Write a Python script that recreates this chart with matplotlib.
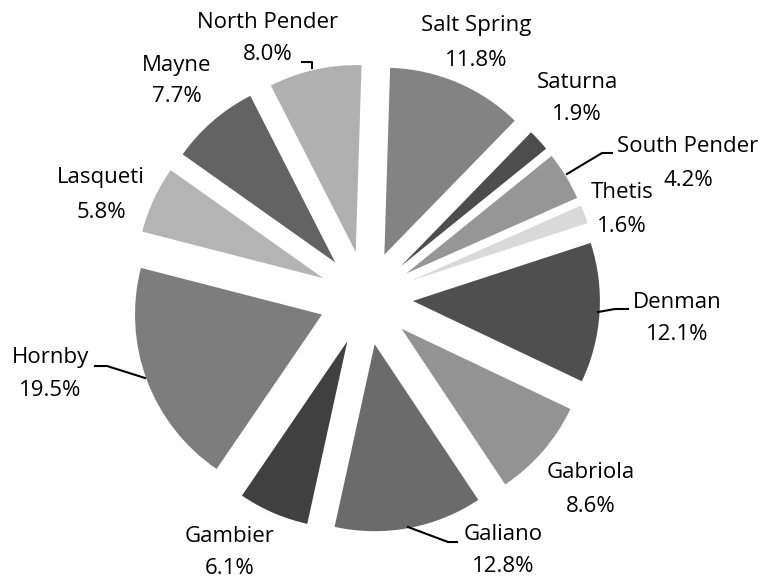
import matplotlib.pyplot as plt

# Excel order (first slice = Denman), values in percent
islands = ["Denman", "Gabriola", "Galiano", "Gambier", "Hornby", "Lasqueti",
           "Mayne", "North Pender", "Salt Spring", "Saturna", "South Pender", "Thetis"]
shares = [12.1, 8.6, 12.8, 6.1, 19.5, 5.8, 7.7, 8.0, 11.8, 1.9, 4.2, 1.6]
greys = ["#4f4f4f", "#939393", "#6b6b6b", "#404040", "#7d7d7d", "#b4b4b4",
         "#636363", "#b0b0b0", "#838383", "#4d4d4d", "#969696", "#d9d9d9"]

W, H = 762, 578
def Y(py):
    return H - py

fig = plt.figure(figsize=(W / 100, H / 100), dpi=100)
ax = fig.add_axes([0, 0, 1, 1])

ax.pie(shares, colors=greys, startangle=18.1, counterclock=False,
       center=(366, Y(298)), radius=187, explode=[47] * len(shares),
       wedgeprops=dict(linewidth=0))
ax.set_xlim(0, W)
ax.set_ylim(0, H)
ax.set_aspect("equal")
ax.axis("off")

# label centres (pixels from top-left): name line, value line
label_pos = {
    "Denman": (677, 302, 335),
    "Gabriola": (591, 472, 506),
    "Galiano": (503, 535, 566),
    "Gambier": (230, 536, 568),
    "Hornby": (50, 358, 390),
    "Lasqueti": (101, 178, 212),
    "Mayne": (177, 65, 97),
    "North Pender": (268, 22, 55),
    "Salt Spring": (476, 26, 60),
    "Saturna": (577, 82, 115),
    "South Pender": (688, 146, 180),
    "Thetis": (622, 193, 227),
}
font = dict(family=["Open Sans", "DejaVu Sans"], fontsize=16, color="black",
            ha="center", va="center")
for name, val in zip(islands, shares):
    x, y1, y2 = label_pos[name]
    ax.text(x, Y(y1), name, **font)
    ax.text(x, Y(y2), f"{val:.1f}%", **font)

# leader lines
leaders = [
    [(598, 312), (615, 309), (628, 309)],
    [(408, 527), (448, 542), (457, 542)],
    [(145, 378), (107, 366), (95, 366)],
    [(567, 174), (602, 153), (612, 153)],
    [(302, 62), (312, 62), (312, 68)],
]
for pts in leaders:
    ax.plot([p[0] for p in pts], [Y(p[1]) for p in pts], color="black", lw=1.5)

fig.savefig("out.png", dpi=100)
